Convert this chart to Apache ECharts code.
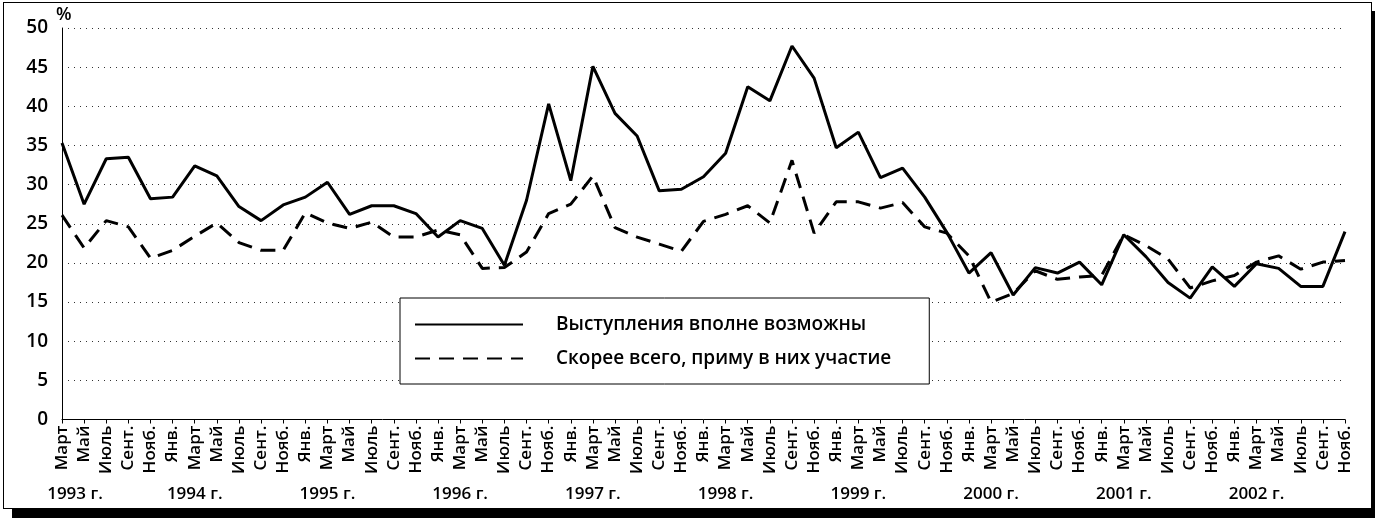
<!DOCTYPE html>
<html>
<head>
<meta charset="utf-8">
<script src="https://cdn.jsdelivr.net/npm/echarts@6/dist/echarts.min.js"></script>
<style>
html, body { margin: 0; padding: 0; background: #fff; overflow: hidden; }
#frame { position: absolute; left: 3px; top: 2px; width: 1367px; height: 505px; border: 1px solid #000; box-shadow: 9px 9px 0 #000; background: #fff; }
#main { position: absolute; left: 0; top: 0; width: 1375px; height: 518px; }
</style>
</head>
<body>
<div id="frame"></div>
<div id="main"></div>
<script>
// подписи по оси X: месяцы (каждые два месяца), годы
var firstYearMonths = ['Март', 'Май', 'Июль', 'Сент.', 'Нояб.'];
var yearMonths = ['Янв.', 'Март', 'Май', 'Июль', 'Сент.', 'Нояб.'];
var years = ['1993 г.', '1994 г.', '1995 г.', '1996 г.', '1997 г.', '1998 г.', '1999 г.', '2000 г.', '2001 г.', '2002 г.'];

// Выступления вполне возможны, %
var possible = [35.3, 27.5, 33.3, 33.5, 28.2,
    28.4, 32.4, 31.1, 27.2, 25.4, 27.4,
    28.4, 30.3, 26.2, 27.3, 27.3, 26.3,
    23.3, 25.4, 24.4, 19.7, 28.0, 40.3,
    30.5, 45.1, 39.1, 36.2, 29.2, 29.4,
    31.0, 34.0, 42.5, 40.7, 47.7, 43.6,
    34.7, 36.7, 30.9, 32.1, 28.4, 23.9,
    18.7, 21.3, 15.9, 19.4, 18.7, 20.1,
    17.2, 23.6, 20.8, 17.5, 15.5, 19.5,
    17.0, 19.9, 19.3, 17.0, 17.0, 24.0];

// Скорее всего, приму в них участие, %
var participate = [26.1, 21.9, 25.4, 24.6, 20.6,
    21.6, 23.4, 25.1, 22.6, 21.6, 21.6,
    26.4, 25.1, 24.4, 25.2, 23.3, 23.3,
    24.2, 23.6, 19.3, 19.4, 21.4, 26.3,
    27.5, 31.1, 24.5, 23.3, 22.4, 21.5,
    25.3, 26.2, 27.3, 25.1, 33.1, 23.8,
    27.8, 27.8, 27.0, 27.7, 24.6, 23.8,
    20.9, 15.0, 16.1, 19.0, 17.9, 18.2,
    18.4, 23.6, 22.2, 20.5, 16.8, 17.7,
    18.4, 20.1, 20.9, 19.2, 20.1, 20.3];

var seriesNames = ['Выступления вполне возможны', 'Скорее всего, приму в них участие'];

// строим категории и подписи годов
var categories = [];
var yearLabels = [];
for (var y = 0; y < years.length; y++) {
    var list = y == 0 ? firstYearMonths : yearMonths;
    for (var m = 0; m < list.length; m++) {
        categories.push(list[m]);
        yearLabels.push(list[m] == 'Март' ? years[y] : '');
    }
}

var font = 'Open Sans';
var chart = echarts.init(document.getElementById('main'), null, {renderer: 'canvas'});

var option = {
    animation: false,
    backgroundColor: 'transparent',
    textStyle: {fontFamily: font, color: '#000'},
    grid: {left: 62, right: 30, top: 28, bottom: 98.5, containLabel: false},
    legend: {
        show: true,
        orient: 'vertical',
        left: 400,
        top: 298,
        data: seriesNames,
        itemWidth: 108,
        itemHeight: 14,
        itemGap: 15,
        padding: [17, 38, 16, 14],
        borderColor: '#000',
        borderWidth: 1,
        backgroundColor: '#fff',
        itemStyle: {opacity: 0},
        textStyle: {fontFamily: font, fontSize: 19, fontWeight: 600, color: '#000', padding: [0, 0, 0, 28]}
    },
    xAxis: [{
        type: 'category',
        data: categories,
        boundaryGap: false,
        axisLine: {lineStyle: {color: '#000', width: 1}},
        axisTick: {show: true, length: 4, interval: 0, lineStyle: {color: '#000'}},
        axisLabel: {interval: 0, rotate: 90, margin: 6, fontSize: 17, fontWeight: 600, color: '#000', fontFamily: font},
        splitLine: {show: false}
    }, {
        type: 'category',
        data: yearLabels,
        boundaryGap: false,
        position: 'bottom',
        offset: 60,
        axisLine: {show: false},
        axisTick: {show: false},
        axisLabel: {
            interval: 0, margin: 6, fontSize: 17, fontWeight: 600, color: '#000', fontFamily: font,
            formatter: function (v, i) { return i == 0 ? '{f|' + v + '}' : v; },
            rich: {f: {fontSize: 17, fontWeight: 600, fontFamily: font, padding: [0, 0, 0, 26]}}
        },
        splitLine: {show: false}
    }],
    yAxis: {
        type: 'value',
        min: 0,
        max: 50,
        interval: 5,
        name: '%',
        nameGap: 4,
        nameTextStyle: {fontSize: 18, fontWeight: 600, color: '#000', fontFamily: font, align: 'left', padding: [0, 0, 0, -6]},
        axisLine: {show: true, lineStyle: {color: '#000', width: 1}},
        axisTick: {show: false},
        axisLabel: {margin: 14, fontSize: 19, fontWeight: 600, color: '#000', fontFamily: font},
        splitLine: {show: true, lineStyle: {color: '#333', width: 1, type: [1, 5]}}
    },
    series: [{
        name: seriesNames[0],
        type: 'line',
        data: possible,
        symbol: 'none',
        lineStyle: {color: '#000', width: 3, type: 'solid'},
        itemStyle: {color: '#000'}
    }, {
        name: seriesNames[1],
        type: 'line',
        data: participate,
        symbol: 'none',
        lineStyle: {color: '#000', width: 3, type: [15, 9]},
        itemStyle: {color: '#000'}
    }]
};
chart.setOption(option);
</script>
</body>
</html>
